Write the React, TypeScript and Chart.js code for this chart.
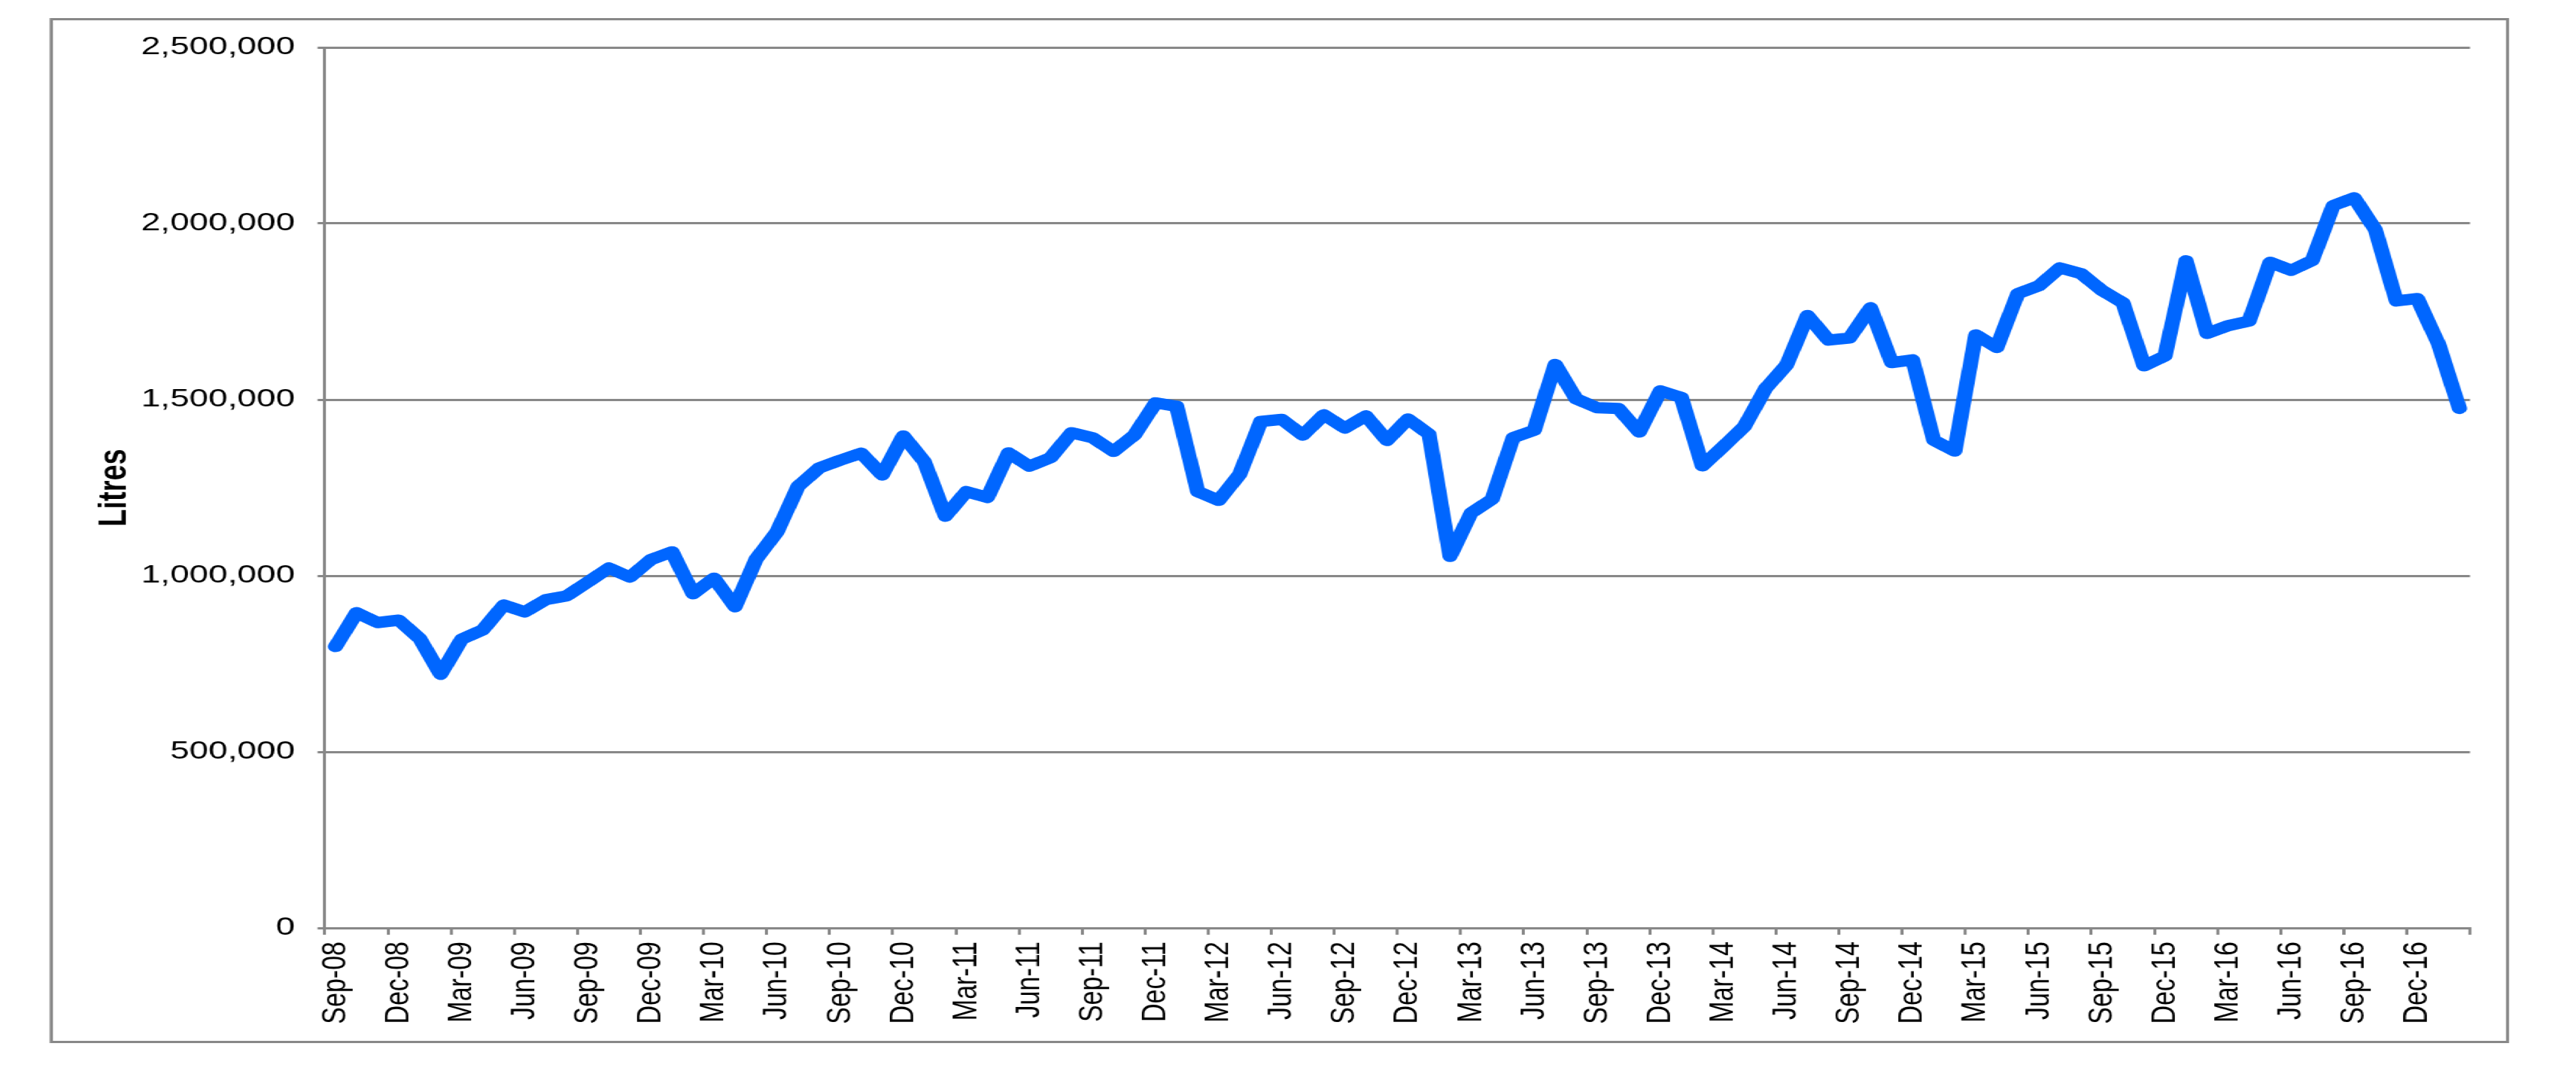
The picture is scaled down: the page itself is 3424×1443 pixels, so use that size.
import React, { useEffect, useRef } from 'react';
import { Chart, registerables } from 'chart.js';

Chart.register(...registerables);

// ---------- data ----------
const months: string[] = [
  'Sep-08', 'Oct-08', 'Nov-08', 'Dec-08',
  'Jan-09', 'Feb-09', 'Mar-09', 'Apr-09', 'May-09', 'Jun-09', 'Jul-09', 'Aug-09', 'Sep-09', 'Oct-09', 'Nov-09', 'Dec-09',
  'Jan-10', 'Feb-10', 'Mar-10', 'Apr-10', 'May-10', 'Jun-10', 'Jul-10', 'Aug-10', 'Sep-10', 'Oct-10', 'Nov-10', 'Dec-10',
  'Jan-11', 'Feb-11', 'Mar-11', 'Apr-11', 'May-11', 'Jun-11', 'Jul-11', 'Aug-11', 'Sep-11', 'Oct-11', 'Nov-11', 'Dec-11',
  'Jan-12', 'Feb-12', 'Mar-12', 'Apr-12', 'May-12', 'Jun-12', 'Jul-12', 'Aug-12', 'Sep-12', 'Oct-12', 'Nov-12', 'Dec-12',
  'Jan-13', 'Feb-13', 'Mar-13', 'Apr-13', 'May-13', 'Jun-13', 'Jul-13', 'Aug-13', 'Sep-13', 'Oct-13', 'Nov-13', 'Dec-13',
  'Jan-14', 'Feb-14', 'Mar-14', 'Apr-14', 'May-14', 'Jun-14', 'Jul-14', 'Aug-14', 'Sep-14', 'Oct-14', 'Nov-14', 'Dec-14',
  'Jan-15', 'Feb-15', 'Mar-15', 'Apr-15', 'May-15', 'Jun-15', 'Jul-15', 'Aug-15', 'Sep-15', 'Oct-15', 'Nov-15', 'Dec-15',
  'Jan-16', 'Feb-16', 'Mar-16', 'Apr-16', 'May-16', 'Jun-16', 'Jul-16', 'Aug-16', 'Sep-16', 'Oct-16', 'Nov-16', 'Dec-16',
  'Jan-17', 'Feb-17',
];

const litres: number[] = [
  799000, 895000, 867000, 874000,
  822000, 720000, 820000, 846000, 917000, 897000, 932000, 943000, 982000, 1022000, 996000, 1046000,
  1068000, 949000, 993000, 912000, 1047000, 1125000, 1254000, 1306000, 1328000, 1348000, 1286000, 1397000,
  1324000, 1169000, 1239000, 1222000, 1349000, 1311000, 1335000, 1406000, 1392000, 1353000, 1400000, 1491000,
  1481000, 1239000, 1214000, 1288000, 1438000, 1444000, 1399000, 1457000, 1419000, 1454000, 1384000, 1445000,
  1402000, 1055000, 1178000, 1217000, 1392000, 1413000, 1600000, 1502000, 1477000, 1475000, 1408000, 1525000,
  1506000, 1312000, 1367000, 1424000, 1531000, 1598000, 1739000, 1669000, 1675000, 1761000, 1605000, 1613000,
  1385000, 1354000, 1684000, 1648000, 1801000, 1823000, 1874000, 1858000, 1810000, 1775000, 1596000, 1624000,
  1894000, 1688000, 1710000, 1723000, 1890000, 1867000, 1895000, 2051000, 2073000, 1983000, 1780000, 1787000,
  1659000, 1475000,
];

const yMin = 0;
const yMax = 2500000;
const yStep = 500000;
const yTitle = 'Litres';
const labelEvery = 3;

// ---------- layout / style ----------
const PAGE_W = 3424;
const PAGE_H = 1443;
const INNER_W = 2536;
const SX = PAGE_W / INNER_W; // horizontal stretch of the reference
const inner = (x: number) => x / SX;

const PLOT_LEFT = 432;
const PLOT_RIGHT = 3283;
const PLOT_TOP = 63;
const PLOT_BOTTOM = 1233;

const GRID = '#888888';
const LINE = '#0066FF';
const FONT = "'Liberation Sans', Arial, Helvetica, sans-serif";

export default function App() {
  const ref = useRef<HTMLCanvasElement | null>(null);

  useEffect(() => {
    if (!ref.current) return;
    Chart.defaults.font.family = FONT;
    const tickVisible = (ctx: any) =>
      ctx.index === undefined || ctx.index % labelEvery === 0 ? GRID : 'rgba(0,0,0,0)';

    const chart = new Chart(ref.current, {
      type: 'line',
      data: {
        labels: months,
        datasets: [
          {
            data: litres,
            borderColor: LINE,
            backgroundColor: LINE,
            borderWidth: 15,
            pointRadius: 0,
            pointHoverRadius: 0,
            tension: 0,
            fill: false,
            borderJoinStyle: 'round',
            borderCapStyle: 'round',
          },
        ],
      },
      options: {
        animation: false,
        responsive: true,
        maintainAspectRatio: false,
        devicePixelRatio: 1,
        events: [],
        layout: {
          padding: { left: 0, top: PLOT_TOP, right: INNER_W - inner(PLOT_RIGHT), bottom: 0 },
        },
        plugins: {
          legend: { display: false },
          tooltip: { enabled: false },
          title: { display: false },
        },
        scales: {
          x: {
            type: 'category',
            offset: true,
            grid: {
              offset: true,
              drawOnChartArea: false,
              drawTicks: true,
              tickLength: 9,
              lineWidth: 3,
              color: tickVisible,
              tickColor: tickVisible,
            },
            border: { display: true, color: GRID, width: 3 },
            ticks: {
              autoSkip: false,
              maxRotation: 90,
              minRotation: 90,
              padding: 9,
              color: '#000000',
              font: { size: 34, family: FONT },
              callback: (_v: any, i: number) => (i % labelEvery === 0 ? months[i] : ''),
            },
            afterFit: (s: any) => {
              s.height = PAGE_H - PLOT_BOTTOM;
            },
          },
          y: {
            min: yMin,
            max: yMax,
            ticks: {
              stepSize: yStep,
              padding: inner(30),
              color: '#000000',
              font: { size: 34, family: FONT },
              callback: (v: any) => Number(v).toLocaleString('en-US'),
            },
            grid: {
              color: GRID,
              lineWidth: 3,
              drawTicks: true,
              tickLength: inner(10),
            },
            border: { display: true, color: GRID, width: 3 },
            title: {
              display: true,
              text: yTitle,
              color: '#000000',
              font: { size: 38, weight: 'bold', family: FONT },
              padding: { top: inner(153) - 22.8, bottom: 0 },
            },
            afterFit: (s: any) => {
              s.width = inner(PLOT_LEFT);
            },
          },
        },
      } as any,
    });
    return () => chart.destroy();
  }, []);

  const bL = inner(68) - 1.5;
  const bR = inner(3333) + 1.5;
  return (
    <div
      style={{
        position: 'absolute',
        left: 0,
        top: 0,
        width: INNER_W,
        height: PAGE_H,
        transform: `scaleX(${SX})`,
        transformOrigin: '0 0',
        background: '#ffffff',
      }}
    >
      <canvas ref={ref} />
      <div
        style={{
          position: 'absolute',
          left: bL,
          top: 23.5,
          width: bR - bL,
          height: 1362,
          border: `3px solid ${GRID}`,
          boxSizing: 'border-box',
          pointerEvents: 'none',
        }}
      />
    </div>
  );
}
